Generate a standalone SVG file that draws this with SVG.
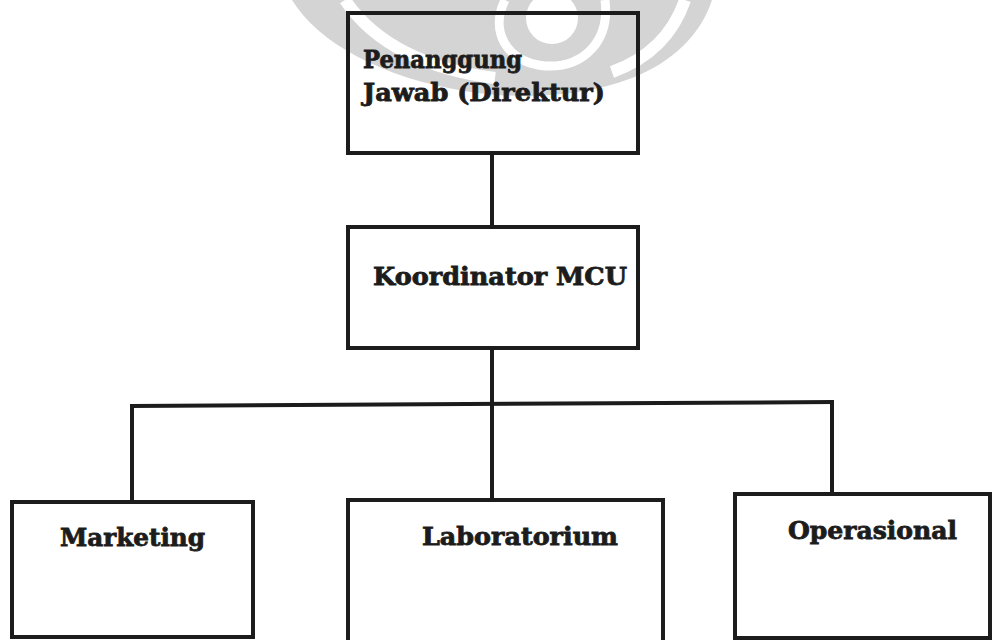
<svg xmlns="http://www.w3.org/2000/svg" width="992" height="640" viewBox="0 0 992 640">
  <style>
    .box { fill: none; stroke: #1c1c1c; stroke-width: 4; }
    .conn { fill: none; stroke: #1c1c1c; stroke-width: 4; stroke-linecap: square; }
    .lbl { font-family: "DejaVu Serif", "Liberation Serif", serif; font-weight: bold; font-size: 24px; fill: #1c1c1c; stroke: #1c1c1c; stroke-width: 0.8; }
    .wm { fill: #d4d4d4; }
    .wmcut { fill: none; stroke: #ffffff; }
  </style>
  <rect x="0" y="0" width="992" height="640" fill="#ffffff"/>
  <g id="watermark">
    <path class="wm" d="M 292 0 C 318 42 380 78 470 92 C 525 100 585 96 632 78 C 672 62 700 36 712 0 Z"/>
    <path class="wmcut" stroke-width="12" d="M 345 0 C 375 45 430 70 495 78"/>
    <path class="wmcut" stroke-width="12" d="M 685 0 C 672 38 645 60 612 72"/>
    <path class="wmcut" stroke-width="9" d="M 505 0 C 490 30 505 62 545 66 C 585 68 610 40 605 0"/>
    <circle cx="552" cy="18" r="26" fill="#ffffff"/>
  </g>
  <g id="connectors">
    <path class="conn" d="M 492 153 L 492 227"/>
    <path class="conn" d="M 492 348 L 492 500"/>
    <path class="conn" d="M 132 406 L 832 402"/>
    <path class="conn" d="M 132 406 L 132 502"/>
    <path class="conn" d="M 832 402 L 832 494"/>
  </g>
  <g id="node-direktur">
    <rect class="box" x="348" y="13" width="290" height="140"/>
    <text class="lbl" x="363" y="68" textLength="159" lengthAdjust="spacingAndGlyphs">Penanggung</text>
    <text class="lbl" x="363" y="101" textLength="242" lengthAdjust="spacingAndGlyphs">Jawab (Direktur)</text>
  </g>
  <g id="node-koordinator">
    <rect class="box" x="348" y="227" width="290" height="121"/>
    <text class="lbl" x="373" y="285" textLength="254" lengthAdjust="spacingAndGlyphs">Koordinator MCU</text>
  </g>
  <g id="node-marketing">
    <rect class="box" x="12" y="502" width="241" height="135"/>
    <text class="lbl" x="60" y="546" textLength="145" lengthAdjust="spacingAndGlyphs">Marketing</text>
  </g>
  <g id="node-laboratorium">
    <rect class="box" x="348" y="500" width="315" height="146"/>
    <text class="lbl" x="422" y="545" textLength="196" lengthAdjust="spacingAndGlyphs">Laboratorium</text>
  </g>
  <g id="node-operasional">
    <rect class="box" x="735" y="494" width="255" height="144"/>
    <text class="lbl" x="788" y="539" textLength="169" lengthAdjust="spacingAndGlyphs">Operasional</text>
  </g>
</svg>
